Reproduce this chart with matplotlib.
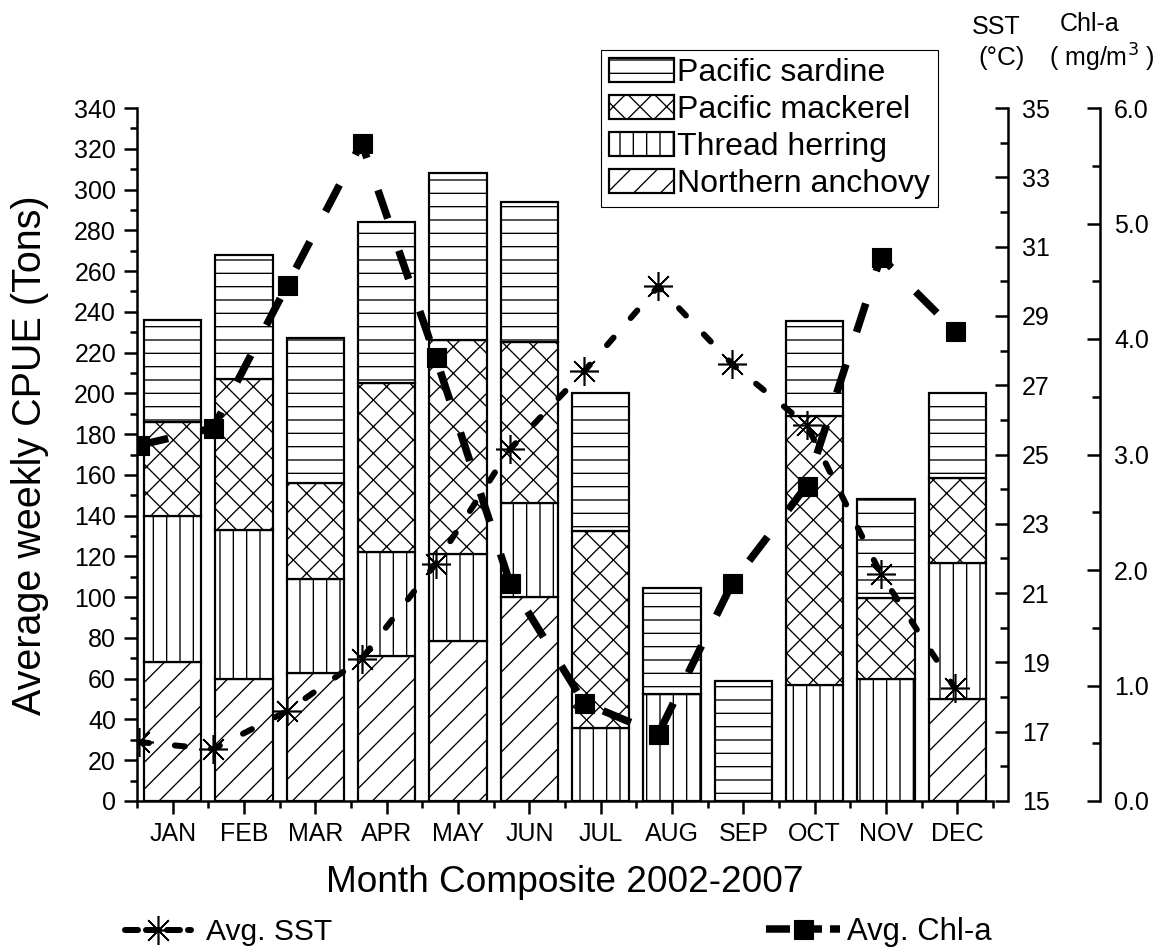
import matplotlib
matplotlib.use('Agg')
import matplotlib.pyplot as plt
from matplotlib.lines import Line2D
from matplotlib.ticker import MultipleLocator, FixedLocator, FormatStrFormatter
import numpy as np

months = ['JAN', 'FEB', 'MAR', 'APR', 'MAY', 'JUN',
          'JUL', 'AUG', 'SEP', 'OCT', 'NOV', 'DEC']

# stacked CPUE (tons), bottom to top
anchovy = [68, 60, 63, 71, 78.5, 100, 0, 0, 0, 0, 0, 50]
herring = [72, 73, 46, 51, 42.5, 46, 36, 52.5, 0, 57, 60, 67]
mackerel = [46, 74, 47, 83, 105, 79, 96.5, 0, 0, 132, 39.5, 41.5]
sardine = [50, 61, 71, 79, 82, 69, 67.5, 52, 59, 46.5, 48.5, 41.5]

sst = [16.7, 16.5, 17.6, 19.1, 21.85, 25.15, 27.4, 29.85, 27.6, 25.85, 21.55, 18.25]
chla = [3.08, 3.23, 4.47, 5.70, 3.84, 1.89, 0.85, 0.58, 1.89, 2.73, 4.71, 4.07]

sst_ticks = [15, 17, 19, 21, 23, 25, 27, 29, 31, 33, 35]

DPI = 80
W, H = 1165, 951


def fx(px):
    return px / W


def fy(py):
    return 1 - py / H


def pt(px):
    return px * 72.0 / DPI


def style_right(a, pos):
    for s in ['left', 'top', 'bottom']:
        a.spines[s].set_visible(False)
    a.spines['right'].set_visible(True)
    a.spines['right'].set_position(('axes', pos))
    a.spines['right'].set_linewidth(pt(2.5))
    a.yaxis.tick_right()
    a.yaxis.set_label_position('right')
    a.tick_params(which='major', direction='in', length=pt(13), width=pt(2.5),
                  labelsize=pt(25), pad=pt(14), left=False, labelleft=False)
    a.tick_params(which='minor', direction='in', length=pt(8), width=pt(2.5),
                  left=False)


def main():
    plt.rcParams['font.family'] = ['Liberation Sans', 'DejaVu Sans']
    plt.rcParams['hatch.linewidth'] = 1.2
    plt.rcParams['lines.scale_dashes'] = False

    fig = plt.figure(figsize=(W / DPI, H / DPI), dpi=DPI)
    rect = [fx(137), fy(801), (993 - 137) / W, (801 - 108) / H]
    ax = fig.add_axes(rect)

    x = np.arange(1, 13)
    bar_kw = dict(width=0.8, facecolor='white', edgecolor='black', linewidth=pt(2.2))
    b1 = ax.bar(x, anchovy, hatch='/', **bar_kw)
    bot = np.array(anchovy, dtype=float)
    b2 = ax.bar(x, herring, bottom=bot, hatch='|', **bar_kw)
    bot = bot + herring
    b3 = ax.bar(x, mackerel, bottom=bot, hatch='x', **bar_kw)
    bot = bot + mackerel
    b4 = ax.bar(x, sardine, bottom=bot, hatch='-', **bar_kw)

    ax.set_xlim(0.5, 12.5)
    ax.set_ylim(0, 340)
    ax.set_xticks(x)
    ax.set_xticklabels(months)
    ax.set_xticks(np.arange(0.5, 13, 1), minor=True)
    ax.yaxis.set_major_locator(MultipleLocator(20))
    ax.yaxis.set_minor_locator(MultipleLocator(10))
    for s in ['top', 'right']:
        ax.spines[s].set_visible(False)
    for s in ['left', 'bottom']:
        ax.spines[s].set_linewidth(pt(2.5))
    ax.tick_params(which='major', direction='out', length=pt(13), width=pt(2.5),
                   labelsize=pt(25), pad=pt(8))
    ax.tick_params(which='minor', direction='out', length=pt(7), width=pt(2.5))

    # SST / Chl-a axes, points sit on their own x scale
    ax_s = fig.add_axes(rect, facecolor='none')
    ax_s.set_xlim(0.973, 12.512)
    ax_s.set_ylim(15, 35)
    ax_s.xaxis.set_visible(False)
    ax_c = ax_s.twinx()
    ax_c.set_ylim(0, 6)

    style_right(ax_s, 1.0175)
    ax_s.yaxis.set_major_locator(FixedLocator(sst_ticks))
    ax_s.yaxis.set_minor_locator(MultipleLocator(1))

    style_right(ax_c, 1.125)
    ax_c.yaxis.set_major_locator(MultipleLocator(1))
    ax_c.yaxis.set_minor_locator(MultipleLocator(0.5))
    ax_c.yaxis.set_major_formatter(FormatStrFormatter('%.1f'))

    sst_kw = dict(color='black', lw=pt(6), dashes=(pt(10), pt(26)),
                  dash_capstyle='round', marker=(8, 2, 0), ms=pt(29),
                  mew=pt(1.6), mec='black')
    chl_kw = dict(color='black', lw=pt(7.5), dashes=(pt(30), pt(34)),
                  dash_capstyle='butt', marker='s', ms=pt(19), mfc='black', mec='black')
    ax_s.plot(x, sst, **sst_kw)
    ax_c.plot(x, chla, **chl_kw)

    # bar legend
    fig.legend([b4, b3, b2, b1],
               ['Pacific sardine', 'Pacific mackerel', 'Thread herring', 'Northern anchovy'],
               loc='upper left', bbox_to_anchor=(fx(601), fy(50)), borderaxespad=0,
               fontsize=pt(32), fancybox=False, edgecolor='black', framealpha=1,
               handlelength=2.03, handleheight=0.78, handletextpad=0.1,
               labelspacing=0.215, borderpad=0.25)

    # line legends under the x label
    h_sst = Line2D([], [], color='black', lw=pt(6), dashes=(pt(13), pt(8)),
                   dash_capstyle='round', marker=(8, 2, 0), ms=pt(29), mew=pt(1.6))
    fig.legend([h_sst], ['Avg. SST'], loc='center left',
               bbox_to_anchor=(fx(125), fy(932)), frameon=False, borderpad=0,
               borderaxespad=0, fontsize=pt(30), handlelength=2.2, handletextpad=0.5)
    h_chl = Line2D([], [], color='black', lw=pt(7.5), dashes=(pt(24), pt(8)),
                   marker='s', ms=pt(19))
    fig.legend([h_chl], ['Avg. Chl-a'], loc='center left',
               bbox_to_anchor=(fx(766), fy(932)), frameon=False, borderpad=0,
               borderaxespad=0, fontsize=pt(31), handlelength=2.4, handletextpad=0.2)

    fig.text(fx(565), fy(882), 'Month Composite 2002-2007', ha='center', va='center',
             fontsize=pt(37))
    fig.text(fx(30), fy(455), 'Average weekly CPUE (Tons)', ha='center', va='center',
             rotation=90, fontsize=pt(39.5))

    fig.text(fx(996), fy(27), 'SST', ha='center', va='center', fontsize=pt(25))
    fig.text(fx(1002), fy(58), '(°C)', ha='center', va='center', fontsize=pt(26))
    fig.text(fx(1090), fy(24), 'Chl-a', ha='center', va='center', fontsize=pt(25))
    fig.text(fx(1102), fy(58), '( mg/m$^{3}$ )', ha='center', va='center', fontsize=pt(25))

    fig.savefig('out.png', dpi=DPI)


if __name__ == '__main__':
    main()
